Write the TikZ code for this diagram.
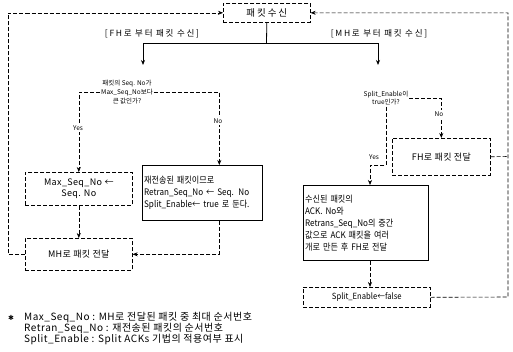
\documentclass[tikz,border=0pt]{standalone}
\usepackage{fontspec}
\setmainfont{Noto Sans CJK KR}
\newfontfamily\djv{DejaVu Sans}
\newfontfamily\spc[LetterSpace=4]{Noto Sans CJK KR}
\newfontfamily\wide[LetterSpace=20]{Noto Sans CJK KR}
\newfontfamily\leg[LetterSpace=5]{Noto Sans CJK KR}
\newfontfamily\nar[FakeStretch=0.9]{Noto Sans CJK KR}
\usetikzlibrary{arrows.meta}
\begin{document}
\begin{tikzpicture}[x=1pt,y=-1pt,
  dsh/.style={dash pattern=on 4pt off 2pt, line width=0.6pt},
  arr/.style={-{Stealth[length=5pt,width=4pt]}},
  dbox/.style={draw, dsh, anchor=north west, inner sep=2pt, align=center, font=\fontsize{9}{11.5}\spc},
  sbox/.style={draw, line width=1.3pt, anchor=north west, inner sep=1.5pt, align=left, font=\fontsize{9}{12}\nar},
  lbl/.style={font=\fontsize{6.5}{8}\selectfont, inner sep=1.5pt, fill=white},
  dec/.style={font=\fontsize{6.5}{8.8}\selectfont, align=center, inner sep=1pt},
  sol/.style={line width=0.8pt},
  ]
\useasboundingbox (0,0) rectangle (513,351);

% top box
\node[dbox, minimum width=87pt, minimum height=19pt, font=\fontsize{9.5}{11}\wide] (top) at (223,3) {패킷수신};

% branch labels
\node[font=\fontsize{8.5}{9}\wide] (lfh) at (152,34) {[FH로 부터 패킷 수신]};
\node[font=\fontsize{8.5}{9}\wide] (lmh) at (379,34) {[MH로 부터 패킷 수신]};

\coordinate (jm) at (266.5,43);
\coordinate (jl) at (143,43);
\coordinate (jr) at (378,43);
\coordinate (el) at (143,65);
\coordinate (er) at (378,65);
\draw[sol] (top.south) -- (jm);
\draw[sol] (jl) -- (jr);
\draw[sol,arr] (jl) -- (el);
\draw[sol,arr] (jr) -- (er);

% left branch
\node[dec] (dl) at (127,92) {패킷의 Seq. No가\\Max\_Seq\_No보다\\큰 값인가?};
\node[dbox, minimum width=107pt, minimum height=33pt] (maxs) at (25,172) {Max\_Seq\_No ←\\Seq. No};
\node[sbox, text width=117pt, minimum height=55pt] (retr) at (142,165) {재전송된 패킷이므로\\Retran\_Seq\_No ← Seq. No\\Split\_Enable← true 로 둔다.};
\node[dbox, minimum width=107pt, minimum height=32pt] (mh) at (25,238) {MH로 패킷 전달};

\draw[dsh,arr] (dl.west) -| (maxs.north);
\draw[dsh,arr] (dl.east) -| ([xshift=-44pt]retr.north east);
\node[lbl] (yl) at (78,128) {Yes};
\node[lbl] (nl) at (218,121) {No};
\draw[dsh,arr] (maxs.south) -- (mh.north);
\draw[dsh,arr] ([xshift=-44pt]retr.south east) |- (mh.east);
\draw[dsh,arr] (mh.west) -- ++(-17,0) |- (top.west);

% right branch
\node[dec] (dr) at (386,98) {Split\_Enable이\\true인가?};
\node[dbox, minimum width=98pt, minimum height=37pt] (fh) at (392,138) {FH로 패킷 전달};
\node[sbox, text width=122pt, minimum height=75pt] (ack) at (303,185) {수신된 패킷의\\ACK. No와\\Retrans\_Seq\_No의 중간\\값으로 ACK 패킷을 여러\\개로 만든 후 FH로 전달};
\node[dbox, minimum width=127pt, minimum height=20pt, font=\fontsize{8.5}{10}\nar] (sf) at (303,287) {Split\_Enable←false};

\draw[dsh,arr] (dr.east) -| (fh.north);
\node[lbl] (nr) at (439,114) {No};
\draw[dsh,arr] (dr.south) |- ([xshift=67pt,yshift=20pt]ack.north west) -- ([xshift=67pt]ack.north west);
\node[lbl] (yr) at (374,157) {Yes};
\draw[dsh,arr] ([xshift=67pt]ack.south west) -- ([xshift=67pt]sf.north west);
\draw[dsh,arr] (sf.east) -- (508,297) |- (top.east);
\draw[dsh] (fh.east) -- (508,156.5);

% legend
\node[inner sep=0pt, font=\fontsize{7}{8}\djv] (bul) at (11,318) {✱};
\node[anchor=north west, inner sep=0pt, align=left, font=\fontsize{10}{11}\leg] (leg) at (24,312) {Max\_Seq\_No : MH로 전달된 패킷 중 최대 순서번호\\Retran\_Seq\_No : 재전송된 패킷의 순서번호\\Split\_Enable : Split ACKs 기법의 적용여부 표시};
\end{tikzpicture}
\end{document}
